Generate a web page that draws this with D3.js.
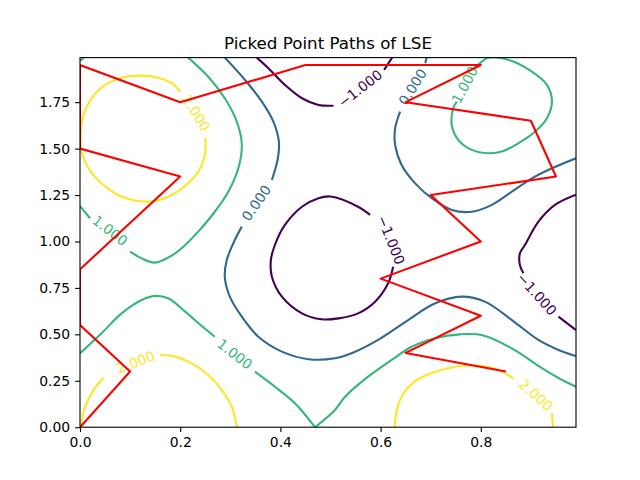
<!DOCTYPE html>
<html>
<head>
<meta charset="utf-8">
<script src="https://cdn.jsdelivr.net/npm/d3@7"></script>
<style>
  body { margin: 0; background: #fff; }
  svg { font-family: "DejaVu Sans", sans-serif; }
</style>
</head>
<body>
<svg width="640" height="480"></svg>
<script>
// contour levels and their viridis colours
const levels = [-1, 0, 1, 2];
const levelColors = ["#440154", "#31688e", "#35b779", "#fde725"];

// contour lines, [x, y] in data units, null = break
const level2TopLeft = [[0.250,1.556],[0.250,1.484],[0.240,1.394],[0.216,1.313],[0.183,1.250],[0.150,1.218],[0.116,1.218],[0.076,1.250],[0.043,1.313],[0.017,1.394],[0.003,1.484],[0.001,1.591],[0.007,1.681],[0.023,1.771],[0.050,1.843],[0.083,1.882],[0.120,1.893],[0.156,1.882],[0.183,1.852],[0.200,1.807]];
const level2BottomLeft = [[0.002,0.0],[0.010,0.110],[0.027,0.200],[0.047,0.266], null, [0.160,0.389],[0.190,0.380],[0.223,0.344],[0.256,0.281],[0.283,0.200],[0.303,0.110],[0.313,0.0]];
const level2BottomRight = [[0.628,0.0],[0.633,0.100],[0.645,0.180],[0.665,0.240],[0.695,0.285],[0.730,0.315],[0.770,0.332],[0.805,0.328],[0.838,0.305],[0.865,0.262], null, [0.942,0.075],[0.944,0.0]];

const level1TopCorner = [[0.0,1.972],[0.008,1.99]];
const level1Left = [[0.216,1.99],[0.256,1.887],[0.289,1.771],[0.313,1.645],[0.323,1.520],[0.316,1.394],[0.296,1.268],[0.269,1.160],[0.236,1.053],[0.210,0.981],[0.190,0.936],[0.150,0.886],[0.123,0.909],[0.100,0.945], null, [0.020,1.125],[0.0,1.19]];
const level1Bottom = [[0.0,0.398],[0.043,0.506],[0.083,0.613],[0.123,0.685],[0.150,0.707],[0.176,0.694],[0.210,0.622],[0.243,0.545],[0.269,0.487], null, [0.349,0.299],[0.389,0.218],[0.429,0.129],[0.469,0.0], null, [0.469,0.0],[0.509,0.093],[0.529,0.164],[0.575,0.272],[0.622,0.362],[0.662,0.433],[0.709,0.479],[0.758,0.500],[0.805,0.494],[0.868,0.415],[0.915,0.330],[0.955,0.265],[0.99,0.218]];
const level1TopRight = [[0.785,1.925],[0.802,1.968],[0.815,1.99],[0.862,1.972],[0.902,1.914],[0.932,1.843],[0.942,1.753],[0.932,1.663],[0.908,1.591],[0.875,1.529],[0.842,1.484],[0.815,1.475],[0.782,1.493],[0.755,1.547],[0.742,1.627],[0.745,1.717],[0.752,1.753]];

const level0Left = [[0.289,1.99],[0.329,1.871],[0.363,1.753],[0.386,1.645],[0.397,1.537],[0.395,1.448],[0.383,1.331], null, [0.323,1.080],[0.309,1.008],[0.293,0.900],[0.289,0.810],[0.299,0.703],[0.323,0.595],[0.356,0.487],[0.403,0.407],[0.456,0.366],[0.509,0.371],[0.542,0.398],[0.595,0.470],[0.655,0.577],[0.709,0.667],[0.762,0.703],[0.808,0.676],[0.862,0.577],[0.915,0.470],[0.955,0.416],[0.99,0.383]];
const level0Right = [[0.692,1.99],[0.689,1.960], null, [0.639,1.699],[0.629,1.610],[0.629,1.520],[0.642,1.412],[0.669,1.313],[0.702,1.233],[0.742,1.170],[0.782,1.160],[0.822,1.197],[0.862,1.268],[0.902,1.340],[0.942,1.394],[0.99,1.448]];

const levelM1Top = [[0.353,1.99],[0.376,1.933],[0.409,1.843],[0.443,1.771],[0.476,1.735],[0.506,1.731], null, [0.607,1.924],[0.623,1.99]];
const levelM1Center = [[0.579,1.143],[0.555,1.187],[0.500,1.242],[0.476,1.233],[0.443,1.187],[0.409,1.089],[0.389,0.981],[0.381,0.900],[0.383,0.810],[0.403,0.703],[0.443,0.613],[0.482,0.581],[0.516,0.586],[0.555,0.613],[0.589,0.676],[0.615,0.775],[0.625,0.864]];
const levelM1Right = [[0.99,1.252],[0.948,1.197],[0.915,1.107],[0.888,0.981],[0.878,0.936],[0.878,0.873],[0.885,0.829], null, [0.955,0.595],[0.99,0.523]];

// inline contour labels: level, x, y, angle
const labelLevels = [2, 2, 2, 1, 1, 1, 0, 0, -1, -1, -1];
const labelX = [0.232, 0.111, 0.910, 0.060, 0.309, 0.768, 0.352, 0.664, 0.559, 0.621, 0.912];
const labelY = [1.692, 0.351, 0.173, 1.059, 0.394, 1.843, 1.207, 1.832, 1.824, 1.008, 0.717];
const labelAngle = [58, -21, 42, 38, 38, -62, -55, -58, -38, 68, 48];

// picked point path
const pathX = [0, 0.1, 0, 0, 0.2, 0, 0, 0.2, 0.45, 0.8, 0.65, 0.9, 0.95, 0.7, 0.8, 0.6, 0.8, 0.65, 0.85];
const pathY = [0, 0.3, 0.55, 0.85, 1.35, 1.5, 1.95, 1.75, 1.95, 1.95, 1.75, 1.65, 1.35, 1.25, 1.0, 0.8, 0.6, 0.4, 0.3];

const xTicks = [0.0, 0.2, 0.4, 0.6, 0.8];
const yTicks = [0.00, 0.25, 0.50, 0.75, 1.00, 1.25, 1.50, 1.75];

const contourPieces = [
  { level: 2, pts: level2TopLeft },
  { level: 2, pts: level2BottomLeft },
  { level: 2, pts: level2BottomRight },
  { level: 1, pts: level1TopCorner },
  { level: 1, pts: level1Left },
  { level: 1, pts: level1Bottom },
  { level: 1, pts: level1TopRight },
  { level: 0, pts: level0Left },
  { level: 0, pts: level0Right },
  { level: -1, pts: levelM1Top },
  { level: -1, pts: levelM1Center },
  { level: -1, pts: levelM1Right },
];

const margin = { left: 80, top: 57.6 };
const w = 496, h = 369.6;

const svg = d3.select("svg");
const g = svg.append("g").attr("transform", "translate(" + margin.left + "," + margin.top + ")");

const x = d3.scaleLinear().domain([0, 0.99]).range([0, w]);
const y = d3.scaleLinear().domain([0, 1.99]).range([h, 0]);
const color = d3.scaleOrdinal().domain(levels).range(levelColors);

svg.append("defs").append("clipPath").attr("id", "plot-clip")
  .append("rect").attr("width", w).attr("height", h);

const plot = g.append("g").attr("clip-path", "url(#plot-clip)");

const line = d3.line()
  .defined(d => d !== null)
  .x(d => x(d[0]))
  .y(d => y(d[1]))
  .curve(d3.curveCatmullRom.alpha(0.5));

plot.selectAll("path.contour")
  .data(contourPieces)
  .join("path")
  .attr("class", "contour")
  .attr("d", d => line(d.pts))
  .attr("fill", "none")
  .attr("stroke", d => color(d.level))
  .attr("stroke-width", 2.1);

// contour labels
const labels = labelLevels.map((lv, i) => ({ lv, x: labelX[i], y: labelY[i], a: labelAngle[i] }));
plot.selectAll("text.clabel")
  .data(labels)
  .join("text")
  .attr("class", "clabel")
  .attr("transform", d => "translate(" + x(d.x) + "," + y(d.y) + ") rotate(" + d.a + ")")
  .attr("text-anchor", "middle")
  .attr("dominant-baseline", "central")
  .attr("fill", d => color(d.lv))
  .style("font-size", "13.9px")
  .text(d => d3.format(".3f")(d.lv));

// red path
const pathPts = pathX.map((px, i) => [px, pathY[i]]);
plot.append("path")
  .attr("d", d3.line().x(d => x(d[0])).y(d => y(d[1]))(pathPts))
  .attr("fill", "none")
  .attr("stroke", "red")
  .attr("stroke-width", 2.1)
  .attr("stroke-linejoin", "round");

// axes
const xAxis = g.append("g").attr("transform", "translate(0," + h + ")")
  .call(d3.axisBottom(x).tickValues(xTicks).tickFormat(d3.format(".1f")).tickSize(4.9).tickPadding(4.9).tickSizeOuter(0));
const yAxis = g.append("g")
  .call(d3.axisLeft(y).tickValues(yTicks).tickFormat(d3.format(".2f")).tickSize(4.9).tickPadding(4.9).tickSizeOuter(0));

[xAxis, yAxis].forEach(a => {
  a.select(".domain").remove();
  a.selectAll("line").attr("stroke", "#000").attr("stroke-width", 1.1);
  a.selectAll("text").attr("fill", "#000").style("font-size", "13.9px").style("font-family", "DejaVu Sans");
});

// frame
g.append("rect")
  .attr("width", w).attr("height", h)
  .attr("fill", "none").attr("stroke", "#000").attr("stroke-width", 1.1);

// title
svg.append("text")
  .attr("x", margin.left + w / 2)
  .attr("y", margin.top - 8.3)
  .attr("text-anchor", "middle")
  .style("font-size", "16.7px")
  .text("Picked Point Paths of LSE");
</script>
</body>
</html>
